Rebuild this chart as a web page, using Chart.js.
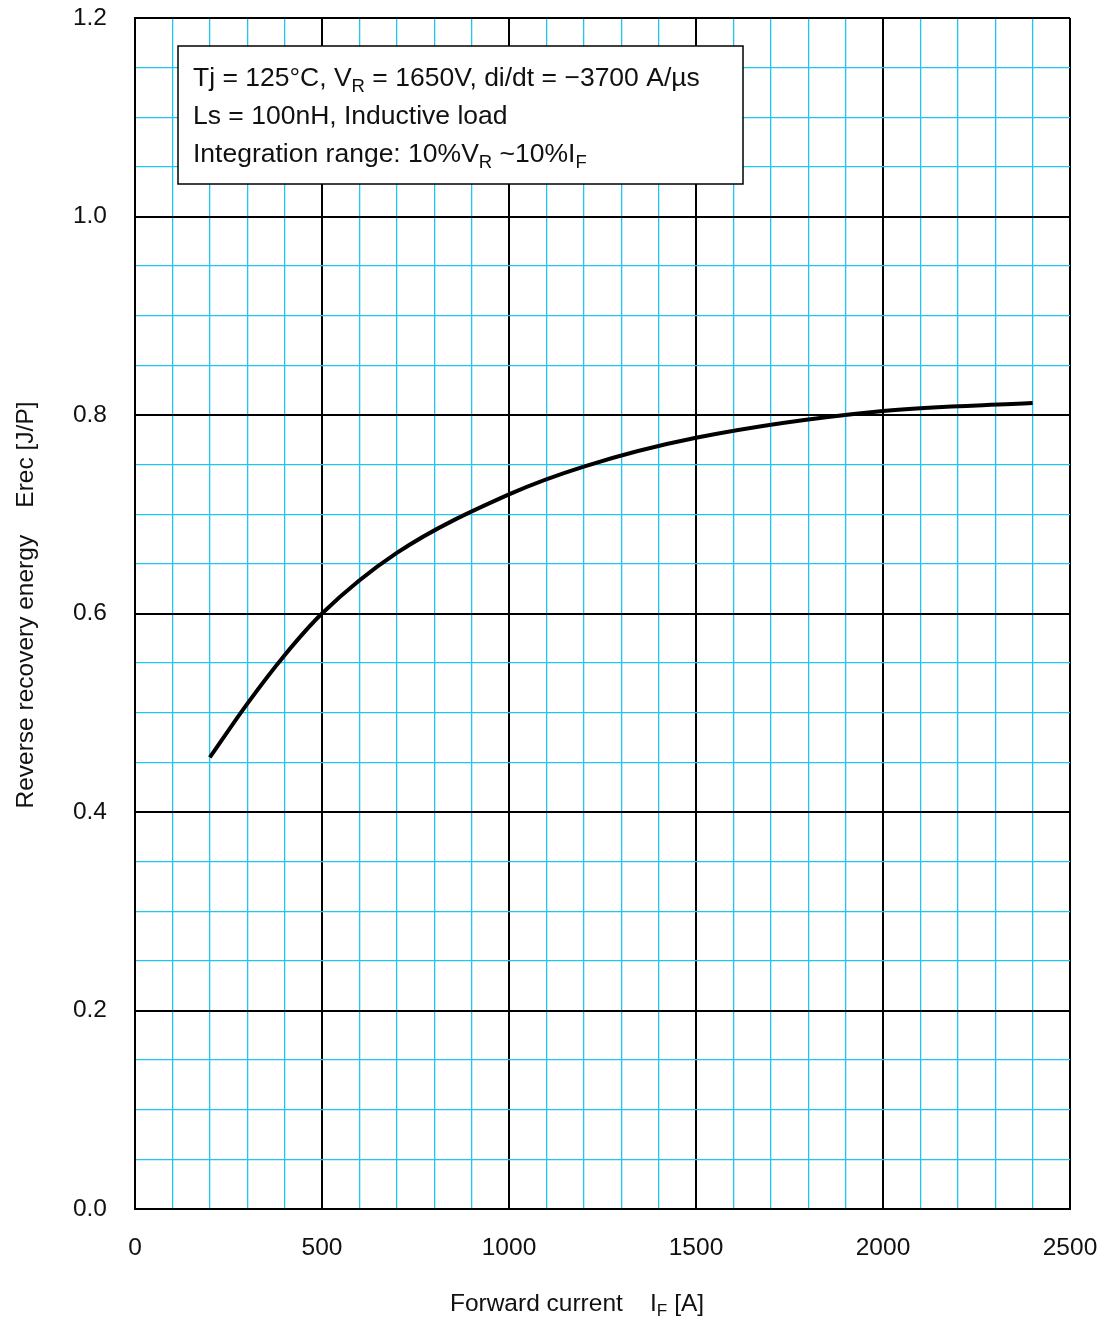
<!DOCTYPE html>
<html>
<head>
<meta charset="utf-8">
<script src="https://cdn.jsdelivr.net/npm/chart.js@4.4.1/dist/chart.umd.min.js"></script>
<style>
  body { margin: 0; background: #fff; }
  #wrap { width: 1106px; height: 1320px; }
</style>
</head>
<body>
<div id="wrap"><canvas id="myChart"></canvas></div>
<script>
// Data
const currentA = [200, 300, 400, 500, 700, 1000, 1200, 1500, 2000, 2400];
const erecJ = [0.455, 0.509, 0.558, 0.600, 0.661, 0.720, 0.748, 0.777, 0.804, 0.812];

const font = "'Liberation Sans', Arial, sans-serif";

// draws text pieces, some as subscripts
function drawRich(ctx, parts, x, y, size) {
   let cx = x;
   parts.forEach(p => {
      let sub = p[1];
      ctx.font = (sub ? size * 0.7 : size) + "px " + font;
      ctx.fillText(p[0], cx, sub ? y + size * 0.22 : y);
      cx += ctx.measureText(p[0]).width;
   });
}
function richWidth(ctx, parts, size) {
   let w = 0;
   parts.forEach(p => {
      ctx.font = (p[1] ? size * 0.7 : size) + "px " + font;
      w += ctx.measureText(p[0]).width;
   });
   return w;
}

const extras = {
   id: "extras",
   afterDraw(chart) {
      const ctx = chart.ctx;
      ctx.save();
      ctx.textBaseline = "alphabetic";

      // condition box
      ctx.fillStyle = "#fff";
      ctx.fillRect(178, 46, 565, 138);
      ctx.strokeStyle = "#000";
      ctx.lineWidth = 1.5;
      ctx.strokeRect(178, 46, 565, 138);
      ctx.fillStyle = "#111";
      drawRich(ctx, [["Tj = 125°C, V"], ["R", true], [" = 1650V, di/dt = \u22123700 A/\u00b5s"]], 193, 86, 26.5);
      drawRich(ctx, [["Ls = 100nH, Inductive load"]], 193, 124, 26.5);
      drawRich(ctx, [["Integration range: 10%V"], ["R", true], [" ~10%I"], ["F", true]], 193, 162, 26.5);

      // x axis title
      const xt = [["Forward current    I"], ["F", true], [" [A]"]];
      drawRich(ctx, xt, 577 - richWidth(ctx, xt, 24.5) / 2, 1311, 24.5);

      // y axis title
      ctx.translate(33, 605);
      ctx.rotate(-Math.PI / 2);
      const yt = [["Reverse recovery energy    Erec [J/P]"]];
      drawRich(ctx, yt, -richWidth(ctx, yt, 24.5) / 2, 0, 24.5);
      ctx.restore();
   }
};

function isMajorX(v) { return Math.round(v) % 500 === 0; }
function isMajorY(v) { return Math.round(v * 100) % 20 === 0; }

let ctx = document.getElementById("myChart").getContext("2d");
let erecChart = new Chart(ctx, {
   type: "line",
   data: {
      datasets: [{
         data: currentA.map((x, i) => ({ x: x, y: erecJ[i] })),
         borderColor: "#000",
         borderWidth: 4,
         pointRadius: 0,
         cubicInterpolationMode: "monotone",
         fill: false
      }]
   },
   options: {
      responsive: true,
      maintainAspectRatio: false,
      animation: false,
      layout: { padding: { top: 18, right: 36, left: 0, bottom: 0 } },
      plugins: { legend: { display: false }, tooltip: { enabled: false } },
      scales: {
         x: {
            type: "linear",
            min: 0,
            max: 2500,
            afterFit: s => { s.height = 111; s.paddingLeft = 0; s.paddingRight = 0; },
            border: { color: "#000", width: 2 },
            grid: {
               drawTicks: false,
               color: c => isMajorX(c.tick.value) ? "#000" : "#1fc6f0",
               lineWidth: c => isMajorX(c.tick.value) ? 2 : 1.3
            },
            ticks: {
               stepSize: 100,
               autoSkip: false,
               maxRotation: 0,
               padding: 25,
               color: "#111",
               font: { family: font, size: 24.5 },
               callback: v => isMajorX(v) ? String(v) : ""
            }
         },
         y: {
            min: 0,
            max: 1.2,
            afterFit: s => { s.width = 135; s.paddingTop = 0; s.paddingBottom = 0; },
            border: { color: "#000", width: 2 },
            grid: {
               drawTicks: false,
               color: c => isMajorY(c.tick.value) ? "#000" : "#1fc6f0",
               lineWidth: c => isMajorY(c.tick.value) ? 2 : 1.3
            },
            ticks: {
               stepSize: 0.05,
               autoSkip: false,
               padding: 28,
               color: "#111",
               font: { family: font, size: 24.5 },
               callback: v => isMajorY(v) ? v.toFixed(1) : ""
            }
         }
      }
   },
   plugins: [extras]
});
</script>
</body>
</html>
